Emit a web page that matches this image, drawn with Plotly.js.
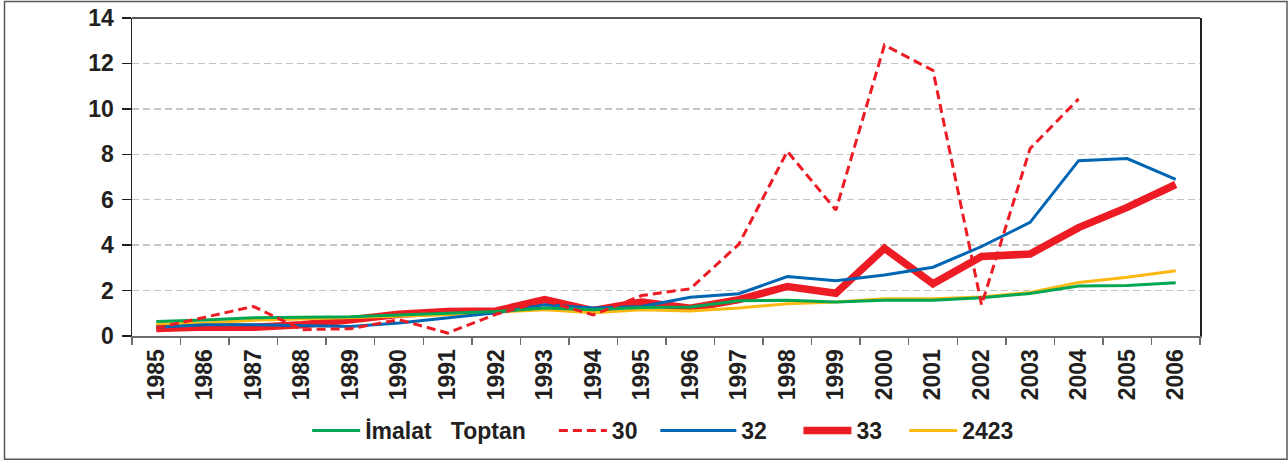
<!DOCTYPE html>
<html>
<head>
<meta charset="utf-8">
<script src="https://cdn.plot.ly/plotly-3.0.1.min.js"></script>
<style>
  html, body { margin: 0; padding: 0; background: #ffffff; }
  #chart { width: 1288px; height: 464px; }
</style>
</head>
<body>
<div id="chart"></div>
<script>
const years = ["1985","1986","1987","1988","1989","1990","1991","1992","1993","1994","1995",
               "1996","1997","1998","1999","2000","2001","2002","2003","2004","2005","2006"];
const imalatToptan = [0.64,0.70,0.80,0.83,0.85,0.93,1.02,1.08,1.23,1.16,1.26,1.28,1.55,1.57,1.50,1.57,1.57,1.68,1.87,2.20,2.22,2.34];
const s30   = [0.35,0.82,1.30,0.28,0.32,0.72,0.13,0.96,1.55,0.93,1.78,2.08,4.04,8.13,5.54,12.81,11.69,1.37,8.25,10.44,null,null];
const s32   = [0.38,0.50,0.50,0.45,0.42,0.57,0.80,1.02,1.37,1.23,1.30,1.71,1.86,2.62,2.43,2.69,3.03,3.94,5.00,7.72,7.81,6.90];
const s33   = [0.33,0.40,0.38,0.50,0.72,0.96,1.08,1.10,1.60,1.12,1.50,1.22,1.60,2.18,1.88,3.86,2.30,3.50,3.61,4.77,5.66,6.67];
const s2423 = [0.53,0.57,0.69,0.75,0.80,0.86,0.94,1.05,1.16,1.02,1.16,1.10,1.23,1.42,1.50,1.64,1.64,1.72,1.92,2.36,2.59,2.87];
const seriesNames = ["İmalat\u00a0 \u00a0Toptan", "30", "32", "33", "2423"];

const FONT = "'Liberation Sans', Arial, Helvetica, sans-serif";
const TXT = "#231f20";

const traces = [
  {x: years, y: s33, name: seriesNames[3], type: "scatter", mode: "lines",
   line: {color: "#ed1c24", width: 7.5}, legend: "legend4"},
  {x: years, y: s2423, name: seriesNames[4], type: "scatter", mode: "lines",
   line: {color: "#fdb913", width: 3}, legend: "legend5"},
  {x: years, y: s32, name: seriesNames[2], type: "scatter", mode: "lines",
   line: {color: "#0066b3", width: 3}, legend: "legend3"},
  {x: years, y: imalatToptan, name: seriesNames[0], type: "scatter", mode: "lines",
   line: {color: "#00a651", width: 3}, legend: "legend"},
  {x: years, y: s30, name: seriesNames[1], type: "scatter", mode: "lines",
   line: {color: "#ed1c24", width: 3, dash: "9px,5px"}, legend: "legend2", connectgaps: false}
];

function leg(x, w) {
  return {x: x, xanchor: "left", y: -0.297, yanchor: "middle", orientation: "h",
          font: {family: FONT, size: 23, color: TXT, weight: "bold"},
          bgcolor: "rgba(0,0,0,0)", borderwidth: 0, itemwidth: w};
}

const layout = {
  width: 1288, height: 464,
  margin: {l: 132, r: 88, t: 18, b: 126},
  paper_bgcolor: "#ffffff", plot_bgcolor: "#ffffff",
  font: {family: FONT, color: TXT, size: 23, weight: "bold"},
  showlegend: true,
  legend: leg(0.164, 48),
  legend2: leg(0.395, 48),
  legend3: leg(0.490, 76),
  legend4: leg(0.624, 48),
  legend5: leg(0.723, 48),
  xaxis: {
    type: "category", range: [-0.5, 21.5],
    tickangle: -90, tickson: "boundaries", ticks: "outside", ticklen: 7, tickwidth: 1.5,
    tickcolor: "#6d6e71", showline: true, linecolor: "#6d6e71", linewidth: 2,
    showgrid: false, zeroline: false, ticklabelstandoff: 2,
    tickfont: {family: FONT, size: 23, color: TXT, weight: "bold"}
  },
  yaxis: {
    range: [0, 14], dtick: 2, tick0: 0,
    ticks: "outside", ticklen: 9, tickwidth: 1.5, tickcolor: "#231f20",
    showline: true, linecolor: "#231f20", linewidth: 1.5, mirror: true,
    showgrid: true, gridcolor: "#c4c4c4", gridwidth: 1.3, griddash: "7px,4px",
    zeroline: false, ticklabelstandoff: 3,
    tickfont: {family: FONT, size: 23, color: TXT, weight: "bold"}
  },
  shapes: [
    {type: "line", xref: "paper", yref: "paper", x0: 0, x1: 1, y0: 1, y1: 1,
     line: {color: "#231f20", width: 1.5}},
    {type: "rect", xref: "paper", yref: "paper",
     x0: (4.5 - 132) / 1068, x1: (1287 - 132) / 1068,
     y0: (338 - 462) / 320, y1: (338 - 1.5) / 320,
     line: {color: "#58595b", width: 1.5}, fillcolor: "rgba(0,0,0,0)"}
  ]
};

Plotly.newPlot("chart", traces, layout, {displayModeBar: false, staticPlot: true});
</script>
</body>
</html>
